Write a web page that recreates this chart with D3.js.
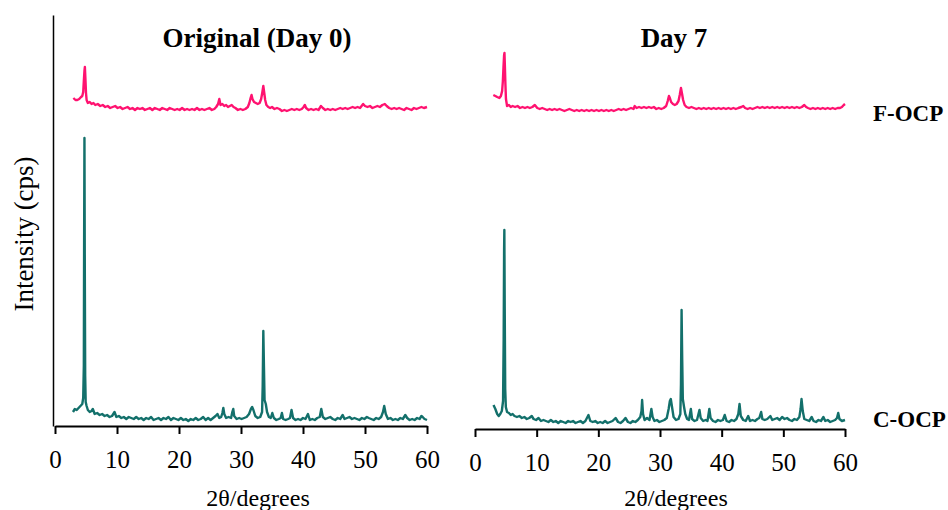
<!DOCTYPE html>
<html>
<head>
<meta charset="utf-8">
<script src="https://cdn.jsdelivr.net/npm/d3@7"></script>
<style>
  html, body { margin: 0; padding: 0; background: #fff; }
  svg { display: block; font-family: "Liberation Serif", "Times New Roman", serif; }
</style>
</head>
<body>
<svg id="chart" width="948" height="510"></svg>
<script>
// XRD patterns: [2θ (degrees), relative intensity]
const panels = ["Original (Day 0)", "Day 7"];
const sampleNames = ["F-OCP", "C-OCP"];
const xTicks = [0, 10, 20, 30, 40, 50, 60];
const xLabel = "2θ/degrees";
const yLabel = "Intensity (cps)";

// F-OCP traces are drawn raised by this many intensity units above C-OCP
const stackOffset = 300;

const cocpDay0 = [[2.9,14],[3.2,17],[3.5,16],[3.8,18],[4.1,20],[4.4,22],[4.55,28],[4.65,60],[4.7,190],[4.75,288],[4.8,170],[4.87,50],[4.95,24],[5.1,20],[5.3,16],[5.6,14],[5.9,15],[6.1,17],[6.4,12],[6.8,13],[7.2,11],[7.6,12],[8.0,10],[8.4,11],[8.8,9],[9.2,10],[9.6,14],[9.9,9],[10.3,10],[10.7,8],[11.1,9],[11.5,7],[11.9,9],[12.3,8],[12.7,7],[13.1,9],[13.5,7],[13.9,8],[14.3,6],[14.7,8],[15.1,7],[15.5,9],[15.9,6],[16.3,7],[16.7,8],[17.1,6],[17.5,8],[17.9,7],[18.3,9],[18.7,6],[19.1,8],[19.5,7],[19.9,6],[20.3,8],[20.7,6],[21.1,7],[21.5,5],[21.9,7],[22.3,6],[22.7,8],[23.1,6],[23.5,7],[23.9,9],[24.3,6],[24.7,8],[25.1,6],[25.5,8],[25.9,10],[26.2,12],[26.5,8],[26.8,9],[27.0,13],[27.15,18],[27.3,12],[27.6,8],[28.0,9],[28.4,8],[28.6,14],[28.75,17],[28.9,10],[29.3,7],[29.7,8],[30.1,7],[30.5,8],[30.9,9],[31.3,12],[31.6,17],[31.8,19],[32.0,16],[32.3,10],[32.7,8],[33.1,9],[33.4,14],[33.5,40],[33.6,95],[33.7,60],[33.8,26],[34.0,22],[34.2,14],[34.5,9],[34.8,8],[35.05,13],[35.3,8],[35.7,6],[36.1,7],[36.4,8],[36.6,13],[36.8,7],[37.2,6],[37.6,7],[37.9,8],[38.15,16],[38.4,8],[38.8,6],[39.2,7],[39.6,6],[40.0,8],[40.4,7],[40.8,12],[41.1,6],[41.5,7],[41.9,6],[42.3,8],[42.7,9],[42.95,17],[43.2,9],[43.6,7],[44.0,8],[44.4,9],[44.8,7],[45.2,6],[45.6,8],[46.0,7],[46.4,11],[46.7,7],[47.1,8],[47.5,9],[47.9,7],[48.3,8],[48.7,7],[49.1,6],[49.5,8],[49.9,7],[50.3,9],[50.6,8],[51.0,7],[51.4,6],[51.8,8],[52.2,7],[52.6,9],[52.9,14],[53.1,20],[53.35,12],[53.7,7],[54.1,8],[54.5,6],[54.9,7],[55.3,6],[55.7,8],[56.1,7],[56.5,11],[56.8,8],[57.2,6],[57.6,7],[58.0,6],[58.4,8],[58.8,7],[59.1,10],[59.3,9],[59.6,7],[60.0,6]];

const cocpDay7 = [[3.0,24],[3.3,20],[3.6,15],[3.85,13],[4.1,15],[4.35,18],[4.55,28],[4.65,90],[4.72,180],[4.76,199],[4.82,120],[4.9,40],[5.0,22],[5.2,17],[5.5,16],[5.8,14],[6.1,15],[6.4,13],[6.8,12],[7.2,13],[7.6,11],[8.0,12],[8.4,10],[8.8,11],[9.2,13],[9.5,10],[9.9,9],[10.3,11],[10.7,8],[11.1,9],[11.5,8],[11.9,7],[12.3,9],[12.7,7],[13.1,8],[13.5,6],[13.9,8],[14.3,7],[14.7,6],[15.1,8],[15.5,7],[15.9,8],[16.3,6],[16.7,7],[17.1,8],[17.5,6],[17.9,8],[18.4,14],[18.7,8],[19.1,7],[19.5,8],[19.9,6],[20.3,7],[20.7,6],[21.1,8],[21.5,6],[21.9,7],[22.3,8],[22.8,11],[23.2,7],[23.6,6],[24.0,8],[24.4,11],[24.8,7],[25.2,6],[25.6,8],[26.0,7],[26.4,9],[26.8,12],[27.0,18],[27.1,29],[27.25,15],[27.5,9],[27.9,11],[28.3,9],[28.6,20],[28.8,12],[29.1,8],[29.5,9],[29.9,7],[30.3,8],[30.7,9],[31.1,11],[31.4,20],[31.6,28],[31.75,30],[31.95,22],[32.2,12],[32.6,9],[33.0,10],[33.3,15],[33.4,45],[33.5,119],[33.6,70],[33.7,30],[33.9,22],[34.1,15],[34.4,10],[34.7,9],[35.0,20],[35.2,10],[35.6,8],[36.0,9],[36.4,19],[36.6,11],[37.0,8],[37.4,9],[37.7,8],[38.0,20],[38.2,11],[38.6,8],[39.0,7],[39.4,9],[39.8,8],[40.2,9],[40.5,14],[40.8,8],[41.2,7],[41.6,9],[42.0,8],[42.4,10],[42.7,15],[42.9,25],[43.1,13],[43.5,9],[43.9,8],[44.3,13],[44.6,8],[45.0,9],[45.4,8],[45.8,10],[46.1,11],[46.4,17],[46.6,10],[47.0,9],[47.4,10],[47.9,13],[48.2,9],[48.6,10],[49.0,11],[49.4,9],[49.8,12],[50.2,10],[50.6,11],[51.0,9],[51.4,8],[51.8,10],[52.2,9],[52.6,12],[52.8,20],[52.95,30],[53.15,18],[53.4,10],[53.8,9],[54.2,8],[54.6,12],[54.9,8],[55.3,7],[55.7,9],[56.1,8],[56.5,12],[56.8,8],[57.2,9],[57.6,7],[58.0,8],[58.4,9],[58.7,11],[58.9,16],[59.1,10],[59.5,8],[60.0,9]];

const focpDay0 = [[2.96,28],[3.3,26],[3.6,26],[3.9,27],[4.2,29],[4.4,30],[4.55,34],[4.65,45],[4.75,55],[4.82,59],[4.9,48],[5.0,33],[5.1,26],[5.3,23],[5.6,24],[5.9,22],[6.2,23],[6.5,21],[6.9,22],[7.3,20],[7.7,21],[8.1,19],[8.5,20],[8.9,18],[9.3,19],[9.7,20],[10.1,18],[10.5,19],[10.9,17],[11.3,18],[11.7,19],[12.1,17],[12.5,18],[12.9,16],[13.3,18],[13.7,17],[14.1,18],[14.5,16],[14.9,17],[15.3,18],[15.7,16],[16.1,18],[16.5,17],[16.9,16],[17.3,18],[17.7,17],[18.1,16],[18.5,18],[18.9,17],[19.3,16],[19.7,17],[20.1,16],[20.5,18],[20.9,16],[21.3,17],[21.7,16],[22.1,17],[22.5,16],[22.9,18],[23.3,16],[23.7,17],[24.1,16],[24.5,17],[24.9,18],[25.3,16],[25.7,17],[26.0,19],[26.3,22],[26.5,27],[26.7,21],[27.0,22],[27.3,20],[27.6,21],[27.9,19],[28.2,20],[28.5,21],[28.8,19],[29.1,18],[29.5,16],[29.9,17],[30.3,16],[30.7,17],[31.1,19],[31.35,23],[31.55,28],[31.7,31],[31.85,27],[32.1,24],[32.4,23],[32.7,22],[33.0,23],[33.25,27],[33.45,34],[33.6,40],[33.75,33],[33.9,26],[34.1,21],[34.4,19],[34.7,18],[35.0,19],[35.4,17],[35.8,18],[36.2,17],[36.6,15],[37.0,16],[37.4,15],[37.8,16],[38.2,17],[38.6,16],[39.0,17],[39.4,16],[39.8,17],[40.1,19],[40.3,21],[40.5,18],[40.9,16],[41.3,17],[41.7,16],[42.1,17],[42.5,16],[42.9,20],[43.2,18],[43.6,16],[44.0,17],[44.4,16],[44.8,17],[45.2,16],[45.6,17],[46.0,18],[46.4,17],[46.8,18],[47.2,17],[47.6,18],[48.0,19],[48.4,18],[48.8,19],[49.2,18],[49.7,22],[50.0,20],[50.4,19],[50.8,20],[51.2,18],[51.6,19],[52.0,20],[52.4,19],[52.8,21],[53.2,22],[53.5,20],[53.9,18],[54.3,17],[54.7,18],[55.1,17],[55.5,18],[55.9,17],[56.3,16],[56.7,18],[57.1,17],[57.5,16],[57.9,18],[58.3,17],[58.7,18],[59.1,19],[59.5,18],[60.0,19]];

const focpDay7 = [[2.97,34],[3.3,33],[3.6,32],[3.95,31],[4.2,33],[4.4,38],[4.52,48],[4.62,62],[4.72,74],[4.78,76],[4.85,62],[4.93,45],[5.02,30],[5.2,23],[5.5,24],[5.8,22],[6.1,23],[6.5,22],[6.9,23],[7.3,21],[7.7,22],[8.1,21],[8.5,22],[8.9,21],[9.3,22],[9.7,24],[10.1,21],[10.5,20],[10.9,21],[11.3,20],[11.7,19],[12.1,20],[12.5,19],[12.9,20],[13.3,19],[13.7,20],[14.1,19],[14.5,18],[14.9,19],[15.3,20],[15.7,19],[16.1,18],[16.5,19],[16.9,18],[17.3,19],[17.7,18],[18.1,19],[18.5,18],[18.9,19],[19.3,18],[19.7,19],[20.1,18],[20.5,19],[20.9,18],[21.3,19],[21.7,18],[22.1,19],[22.5,18],[22.9,19],[23.3,20],[23.7,19],[24.1,20],[24.5,19],[24.9,20],[25.3,21],[25.7,20],[25.9,23],[26.2,21],[26.6,22],[27.0,21],[27.4,22],[27.8,21],[28.2,22],[28.6,21],[29.0,22],[29.4,20],[29.8,21],[30.2,20],[30.6,21],[31.0,23],[31.25,28],[31.45,33],[31.6,31],[31.8,27],[32.1,25],[32.4,24],[32.7,25],[33.0,28],[33.2,34],[33.4,41],[33.55,36],[33.75,29],[34.0,24],[34.3,22],[34.7,21],[35.1,22],[35.5,21],[35.9,20],[36.3,21],[36.7,20],[37.1,21],[37.5,20],[37.9,21],[38.3,20],[38.7,21],[39.1,20],[39.5,21],[39.9,20],[40.3,21],[40.7,20],[41.1,21],[41.5,20],[41.9,21],[42.3,20],[42.7,21],[43.2,22],[43.5,23],[43.8,21],[44.2,20],[44.6,21],[45.0,20],[45.4,21],[45.8,22],[46.2,21],[46.6,22],[47.0,21],[47.4,22],[47.8,21],[48.2,22],[48.6,21],[49.0,22],[49.4,21],[49.8,22],[50.2,21],[50.6,22],[51.0,21],[51.4,22],[51.8,21],[52.2,22],[52.6,21],[53.0,22],[53.4,24],[53.7,22],[54.0,21],[54.4,20],[54.8,21],[55.2,20],[55.6,21],[56.0,20],[56.4,21],[56.8,20],[57.2,21],[57.6,20],[58.0,21],[58.4,20],[58.8,21],[59.2,21],[59.5,22],[59.8,24],[60.0,25]];

const colors = { "F-OCP": "#ff1270", "C-OCP": "#13706b" };
const serif = "'Liberation Serif', 'Times New Roman', serif";

const svg = d3.select("#chart");

// Panel geometry: x range and y range (baseline to top) of each plot
const layout = [
  { x0: 55, x1: 427, yBase: 426, yTop: 16, titleX: 257, labelX: 258, series: { "F-OCP": focpDay0, "C-OCP": cocpDay0 } },
  { x0: 475, x1: 845, yBase: 429, yTop: 19, titleX: 674, labelX: 676, series: { "F-OCP": focpDay7, "C-OCP": cocpDay7 } }
];

layout.forEach((p, i) => {
  const x = d3.scaleLinear().domain([0, 60]).range([p.x0, p.x1]);
  const y = d3.scaleLinear().domain([0, 410]).range([p.yBase, p.yTop]);

  const g = svg.append("g");

  // C-OCP at the bottom, F-OCP stacked above it
  sampleNames.forEach(name => {
    const off = name === "F-OCP" ? stackOffset : 0;
    g.append("path")
      .datum(p.series[name])
      .attr("fill", "none")
      .attr("stroke", colors[name])
      .attr("stroke-width", 2.4)
      .attr("stroke-linejoin", "round")
      .attr("d", d3.line().x(d => x(d[0])).y(d => y(d[1] + off)));
  });

  // Bottom axis
  const ax = svg.append("g")
    .attr("transform", `translate(0,${p.yBase})`)
    .call(d3.axisBottom(x).tickValues(xTicks).tickSize(8).tickSizeOuter(0).tickPadding(16));
  ax.attr("font-family", serif).attr("font-size", 25);
  ax.select(".domain").attr("stroke", "#000").attr("stroke-width", 2);
  ax.selectAll(".tick line").attr("stroke", "#000").attr("stroke-width", 2);
  ax.selectAll(".tick text").attr("fill", "#000");

  // Axis title
  svg.append("text")
    .attr("x", p.labelX).attr("y", 506)
    .attr("text-anchor", "middle")
    .attr("font-size", 24)
    .text(xLabel);

  // Panel title
  svg.append("text")
    .attr("x", p.titleX).attr("y", 47)
    .attr("text-anchor", "middle")
    .attr("font-size", 27)
    .attr("font-weight", "bold")
    .text(panels[i]);

  // Left vertical axis only on the first panel
  if (i === 0) {
    const ay = svg.append("g")
      .attr("transform", "translate(53,0)")
      .call(d3.axisLeft(d3.scaleLinear().domain([0, 411]).range([p.yBase, 15])).tickValues([]).tickSizeOuter(0));
    ay.select(".domain").attr("stroke", "#000").attr("stroke-width", 1.5);
  }
});

// Sample labels on the right side
svg.append("text").attr("x", 873).attr("y", 121)
  .attr("font-size", 23).attr("font-weight", "bold").text(sampleNames[0]);
svg.append("text").attr("x", 873).attr("y", 427)
  .attr("font-size", 23).attr("font-weight", "bold").text(sampleNames[1]);

// Y axis title
svg.append("text")
  .attr("transform", "translate(33,234) rotate(-90)")
  .attr("text-anchor", "middle")
  .attr("font-size", 27)
  .text(yLabel);
</script>
</body>
</html>
